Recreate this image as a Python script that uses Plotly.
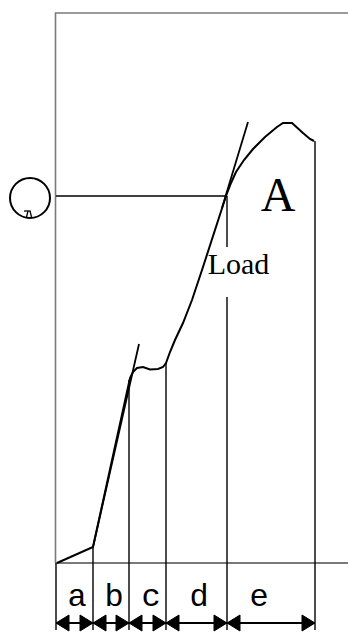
import plotly.graph_objects as go

# load curve (x position, load), baseline load = 0
curve_x = [57, 93, 130, 133, 137, 143, 150, 158, 163, 166, 170, 175, 183, 192, 203, 213, 226,
           231, 236, 244, 253, 265, 277, 283, 292, 303, 310, 314]
curve_load = [0, 16, 185, 191, 195, 196, 193.5, 194, 196, 200, 211, 223, 240, 263, 296, 327, 367,
              380, 391, 403, 414, 426, 436, 440, 440, 430, 424, 422]

# tangent lines
tan1_x = [93, 139]
tan1_load = [16, 219]
tan2_x = [222, 248]
tan2_load = [355, 441]

# horizontal line to the marker at point A
mark_x = [56, 226]
mark_load = [367, 367]

# segment edges and labels
edges = [56, 93, 129, 166, 227, 315]
edge_tops = [0, 16, 183, 200, 367, 422]
seg_labels = ["a", "b", "c", "d", "e"]
label_x = [77, 114, 151, 199, 259]
edge_bottom = -67
arrow_load = -60
label_load = -35

# gap in the line at x=227 for "Load"
load_gap = [316, 266]

# frame
frame_top = 550
frame_left = 55.5
frame_right = 348

BLACK = "black"
GRAY = "#7a7a7a"

fig = go.Figure()

def seg(xs, ys, color=BLACK, width=1.8):
    fig.add_trace(go.Scatter(x=xs, y=ys, mode="lines", line=dict(color=color, width=width),
                             hoverinfo="skip", showlegend=False))

# gray frame
seg([frame_left, frame_left, frame_right], [0, frame_top, frame_top], GRAY, 1.6)
seg([frame_left, frame_right], [0, 0], GRAY, 1.8)

# curve + tangents + horizontal
seg(curve_x, curve_load, BLACK, 2)
seg(tan1_x, tan1_load)
seg(tan2_x, tan2_load)
seg(mark_x, mark_load, BLACK, 1.4)

# vertical dividers
for x, top in zip(edges, edge_tops):
    if x == 227:
        seg([x, x], [top, load_gap[0]], BLACK, 1.4)
        seg([x, x], [load_gap[1], edge_bottom], BLACK, 1.4)
    else:
        seg([x, x], [top, edge_bottom], BLACK, 1.4)

# double-headed arrows
ah_len, ah_half = 13, 8
for x0, x1 in zip(edges[:-1], edges[1:]):
    seg([x0, x1], [arrow_load, arrow_load], BLACK, 2)
    for tip, d in [(x0, 1), (x1, -1)]:
        fig.add_trace(go.Scatter(
            x=[tip, tip + d * ah_len, tip + d * ah_len, tip],
            y=[arrow_load, arrow_load + ah_half, arrow_load - ah_half, arrow_load],
            mode="lines", fill="toself", fillcolor=BLACK, line=dict(color=BLACK, width=1),
            hoverinfo="skip", showlegend=False))

# segment labels
fig.add_trace(go.Scatter(x=label_x, y=[label_load] * 5, mode="text", text=seg_labels,
                         textposition="middle center",
                         textfont=dict(family="Liberation Mono", size=32, color=BLACK),
                         hoverinfo="skip", showlegend=False))

# texts
fig.add_trace(go.Scatter(x=[238.5], y=[297], mode="text", text=["Load"],
                         textposition="middle center",
                         textfont=dict(family="Liberation Serif", size=30, color=BLACK),
                         hoverinfo="skip", showlegend=False))
fig.add_trace(go.Scatter(x=[278], y=[364], mode="text", text=["A"],
                         textposition="middle center",
                         textfont=dict(family="Liberation Serif", size=48, color=BLACK),
                         hoverinfo="skip", showlegend=False))

# circle symbol on the left
fig.add_trace(go.Scatter(x=[30], y=[365], mode="markers",
                         marker=dict(symbol="circle-open", size=40, color=BLACK, line=dict(width=2)),
                         hoverinfo="skip", showlegend=False))
seg([24, 30.5], [352, 352], BLACK, 1.3)
seg([28, 26.5], [352, 346], BLACK, 1.3)
seg([30, 31.5], [352, 346], BLACK, 1.3)

fig.update_layout(
    width=348, height=633,
    margin=dict(l=0, r=0, t=0, b=0),
    paper_bgcolor="white", plot_bgcolor="white",
    xaxis=dict(range=[0, 348], visible=False, fixedrange=True),
    yaxis=dict(range=[-70, 563], visible=False, fixedrange=True),
    showlegend=False,
)

fig.write_html("out.html", config={"displayModeBar": False},
               post_script="document.body.style.margin='0';document.body.style.overflow='hidden';")
